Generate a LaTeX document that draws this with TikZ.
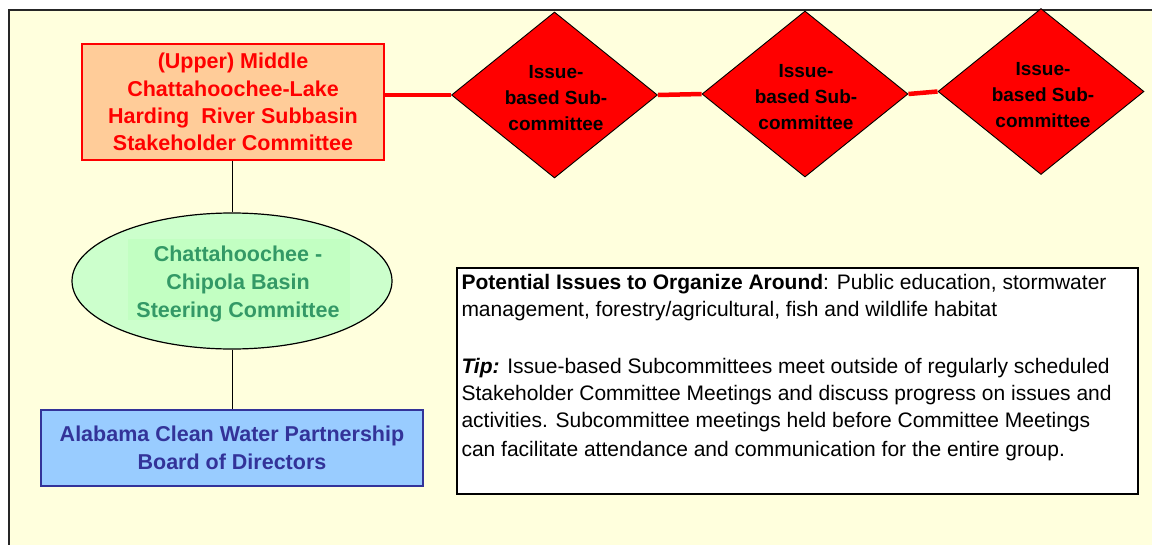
\documentclass[tikz,border=0pt]{standalone}
\usepackage{fontspec}
\setmainfont{Liberation Sans}
\usetikzlibrary{shapes.geometric,calc}
\definecolor{bgyellow}{HTML}{FFFFDD}
\definecolor{boxorange}{HTML}{FFCC99}
\definecolor{ellgreen}{HTML}{CCFFCC}
\definecolor{ellgreenin}{HTML}{C2FFC2}
\definecolor{txtgreen}{HTML}{339966}
\definecolor{boxblue}{HTML}{99CCFF}
\definecolor{navy}{HTML}{333399}
\begin{document}
\begin{tikzpicture}[x=1pt,y=-1pt,
  subdiamond/.style={shape=diamond, draw=black, line width=0.9pt, fill=red, minimum width=206pt, minimum height=166pt, inner sep=0pt},
  subtext/.style={align=center, inner sep=0pt, font=\bfseries\fontsize{19}{26}\selectfont, text=black},
  redlink/.style={draw=red, line width=4.5pt},
  blacklink/.style={draw=black, line width=1.2pt}
]
\useasboundingbox (0,0) rectangle (1152,544);
\fill[white] (0,0) rectangle (1152,544);
\path[fill=bgyellow, draw=black!85, line width=1.4pt] (9,10) rectangle (1170,560);

% orange stakeholder box
\node[draw=red, line width=1.3pt, fill=boxorange, minimum width=302pt, minimum height=116pt, inner sep=0pt,
      align=center, text=red, font=\bfseries\fontsize{21.5}{27.3}\selectfont] (stake) at (233,102)
  {(Upper) Middle\\ Chattahoochee-Lake\\ Harding\ \ River Subbasin\\ Stakeholder Committee};

% diamonds
\node[subdiamond] (d1) at (554.5,95) {};
\node[subdiamond] (d2) at (805,94) {};
\node[subdiamond] (d3) at (1041,91.5) {};
\node[subtext] (d1t) at (556,98.5) {Issue-\\based Sub-\\committee};
\node[subtext] (d2t) at (806,97.5) {Issue-\\based Sub-\\committee};
\node[subtext] (d3t) at (1043,95) {Issue-\\based Sub-\\committee};

% ellipse
\node[shape=ellipse, draw=black, line width=1.2pt, fill=ellgreen, minimum width=320pt, minimum height=136pt, inner sep=0pt] (steer) at (232,281) {};
\node[fill=ellgreenin, minimum width=222pt, minimum height=81pt, inner sep=0pt] (steerbg) at (239,279.5) {};
\node[align=center, inner sep=0pt, text=txtgreen, font=\bfseries\fontsize{21.5}{28}\selectfont] (steert) at (238,284)
  {Chattahoochee -\\ Chipola Basin\\ Steering Committee};

% blue box
\node[draw=navy, line width=1.3pt, fill=boxblue, minimum width=382pt, minimum height=76pt, inner sep=0pt,
      align=center, text=navy, font=\bfseries\fontsize{21.5}{28}\selectfont] (board) at (232,448)
  {Alabama Clean Water Partnership\\ Board of Directors};

% connectors
\draw[redlink] (d1.west) -- (d1.west -| stake.east);
\draw[redlink] (d1.east) -- (d2.west);
\draw[redlink] (d2.east) -- (d3.west);
\draw[blacklink] (stake.south -| 232.5,0) -- (steer.north -| 232.5,0);
\draw[blacklink] (steer.south -| 232.5,0) -- (board.north -| 232.5,0);

% text box
\node[draw=black, line width=1.4pt, fill=white, minimum width=681pt, minimum height=226pt, inner sep=0pt] (notes) at (797.5,381) {};
\node[anchor=north west, align=left, inner sep=0pt, font=\fontsize{21}{27}\selectfont] (notest) at ($(notes.north west)+(5,6.5)$)
  {\textbf{Potential Issues to Organize Around}: Public education, stormwater\\
   management, forestry/agricultural, fish and wildlife habitat\\[30pt]
   \textbf{\textit{Tip:}} Issue-based Subcommittees meet outside of regularly scheduled\\
   Stakeholder Committee Meetings and discuss progress on issues and\\
   activities. Subcommittee meetings held before Committee Meetings\\[2pt]
   can facilitate attendance and communication for the entire group.};
\end{tikzpicture}
\end{document}
